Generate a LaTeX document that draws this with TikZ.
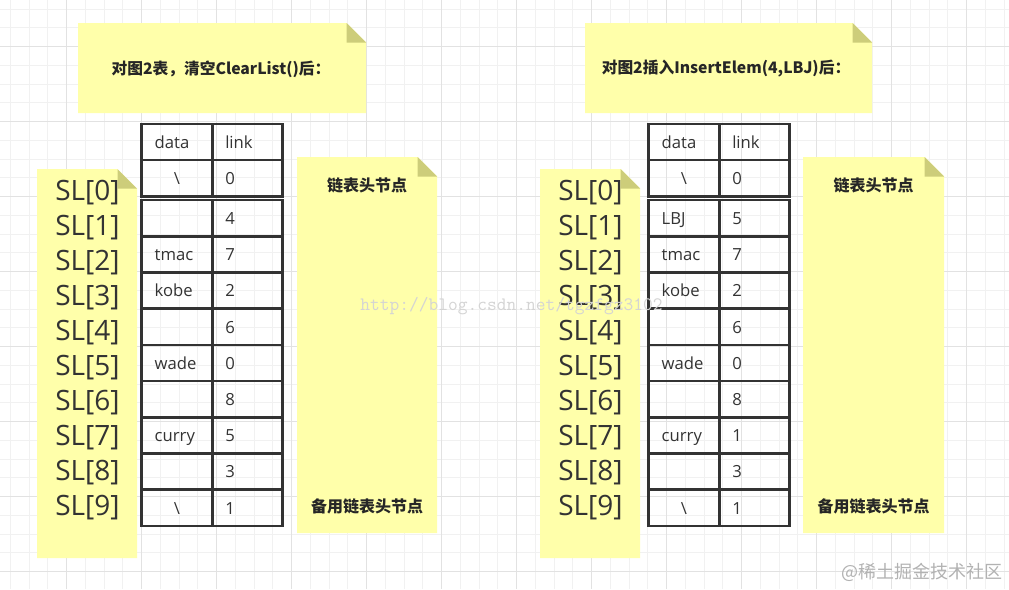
\documentclass[tikz,border=0pt]{standalone}
\usepackage{fontspec}
\setmainfont{Open Sans}
\newfontfamily\cjk{Noto Sans CJK SC}
\usetikzlibrary{positioning}
\definecolor{notefill}{HTML}{FFFFAA}
\definecolor{notefold}{HTML}{CDCD7A}
\definecolor{gridminor}{HTML}{F1F1F1}
\definecolor{gridmajor}{HTML}{E2E2E2}
\definecolor{inkgray}{HTML}{333333}
\definecolor{tableline}{HTML}{333333}
\newcommand{\stickynote}[3]{\begin{scope}[shift={(#1)}]
  \fill[notefill] (0,0) -- ({#2-19.5},0) -- (#2,19.5) -- (#2,#3) -- (0,#3) -- cycle;
  \fill[notefold] ({#2-19.5},0) -- ({#2-19.5},19.5) -- (#2,19.5) -- cycle;\end{scope}}
\tikzset{
  cell/.style={draw=tableline,line width=2pt,outer sep=0pt,minimum height=27.15pt,
    inner xsep=9.75pt,inner ysep=0pt,text width=33.4pt,align=left,
    text height=9.45pt,text depth=0pt,font=\fontsize{12.5}{15}\selectfont,text=inkgray},
  slabel/.style={anchor=base west,inner sep=0pt,font=\fontsize{21}{25}\selectfont,text=inkgray},
  notetitle/.style={font=\cjk\bfseries\fontsize{11.8}{14}\selectfont,text=black!85},
  notelabel/.style={font=\cjk\bfseries\fontsize{12}{14}\selectfont,text=black!85},
}

\begin{document}
\begin{tikzpicture}[x=0.75pt,y=-0.75pt]
\useasboundingbox (0,0) rectangle (1009,589);
\fill[white] (0,0) rectangle (1009,589);
% grid paper
\foreach \i in {0,...,53} \draw[gridminor,line width=0.75pt] ({10.42+18.75*\i},0) -- ({10.42+18.75*\i},589);
\foreach \j in {0,...,30} \draw[gridminor,line width=0.75pt] (0,{9.17+18.75*\j}) -- (1009,{9.17+18.75*\j});
\foreach \i in {0,...,12} \draw[gridmajor,line width=0.75pt] ({66.67+75*\i},0) -- ({66.67+75*\i},589);
\foreach \j in {0,...,7} \draw[gridmajor,line width=0.75pt] (0,{46.67+75*\j}) -- (1009,{46.67+75*\j});

% left: after ClearList()
\stickynote{78,23}{288}{90}
\stickynote{37,169}{100}{389}
\stickynote{297,157}{140}{376}
\node[notetitle] (Ltitle) at (221,69) {对图2表，清空ClearList()后：};
\foreach \n in {0,...,9} \node[slabel] (LS\n) at (55,{200+35.1*\n}) {SL[\n]};
\node[cell] (Ld0) at (177,142) {data};
\node[cell,right=0pt of Ld0] (Lk0) {link};
\node[cell,below=0pt of Ld0,align=center] (Ld1) {\textbackslash};
\node[cell,right=0pt of Ld1] (Lk1) {0};
\node[cell,below=2.8pt of Ld1] (Ld2) {};
\node[cell,right=0pt of Ld2] (Lk2) {4};
\foreach \d/\k [count=\i from 3, remember=\i as \p (initially 2)] in {tmac/7,kobe/2,{}/6,wade/0,{}/8,curry/5,{}/3} {
  \node[cell,below=0pt of Ld\p] (Ld\i) {\d};
  \node[cell,right=0pt of Ld\i] (Lk\i) {\k};
}
\node[cell,below=0pt of Ld9,align=center] (Ld10) {\textbackslash};
\node[cell,right=0pt of Ld10] (Lk10) {1};
\node[notelabel] (Lhead) at (367,185) {链表头节点};
\node[notelabel] (Lspare) at (367,506) {备用链表头节点};

% right: after InsertElem(4,LBJ)
\stickynote{585,23}{287}{90}
\stickynote{540,169}{100}{389}
\stickynote{803,157}{141}{376}
\node[notetitle] (Rtitle) at (726,69) {对图2插入InsertElem(4,LBJ)后：};
\foreach \n in {0,...,9} \node[slabel] (RS\n) at (558,{200+35.1*\n}) {SL[\n]};
\node[cell] (Rd0) at (684,142) {data};
\node[cell,right=0pt of Rd0] (Rk0) {link};
\node[cell,below=0pt of Rd0,align=center] (Rd1) {\textbackslash};
\node[cell,right=0pt of Rd1] (Rk1) {0};
\node[cell,below=2.8pt of Rd1] (Rd2) {LBJ};
\node[cell,right=0pt of Rd2] (Rk2) {5};
\foreach \d/\k [count=\i from 3, remember=\i as \p (initially 2)] in {tmac/7,kobe/2,{}/6,wade/0,{}/8,curry/1,{}/3} {
  \node[cell,below=0pt of Rd\p] (Rd\i) {\d};
  \node[cell,right=0pt of Rd\i] (Rk\i) {\k};
}
\node[cell,below=0pt of Rd9,align=center] (Rd10) {\textbackslash};
\node[cell,right=0pt of Rd10] (Rk10) {1};
\node[notelabel] (Rhead) at (873.5,185) {链表头节点};
\node[notelabel] (Rspare) at (873.5,506) {备用链表头节点};

% watermarks
\node[anchor=base west,inner sep=0pt,text=black!17,font=\ttfamily\fontsize{14.2}{16}\selectfont] (wmblog) at (360,310) {http://blog.csdn.net/tgzfgz3102};
\node[anchor=east,inner sep=0pt,text=black!30,font=\cjk\fontsize{13.5}{16}\selectfont] (wmjj) at (1003,572) {@稀土掘金技术社区};
\end{tikzpicture}
\end{document}
